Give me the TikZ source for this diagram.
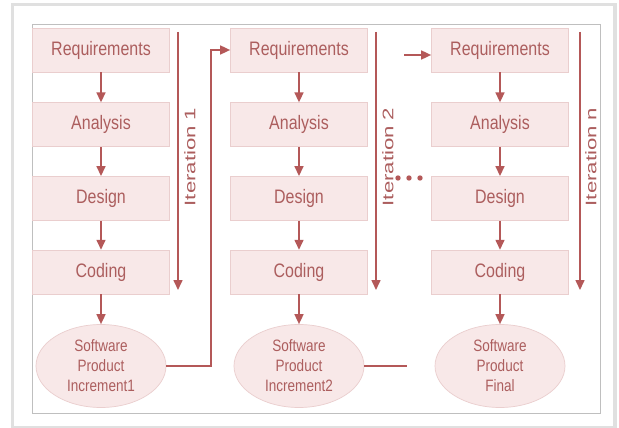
\documentclass[tikz,border=0pt]{standalone}
\usepackage{fontspec}
\setmainfont{Liberation Sans}[FakeStretch=0.82]
\newfontfamily\iterfont{Liberation Sans}[FakeStretch=1.45]
\usetikzlibrary{arrows.meta,positioning,calc}
\usetikzlibrary{shapes}

\definecolor{boxfill}{RGB}{248,232,232}
\definecolor{boxline}{RGB}{234,206,206}
\definecolor{inkred}{RGB}{180,88,88}
\definecolor{textred}{RGB}{172,94,94}

\tikzset{
  phase/.style={draw=boxline, fill=boxfill, line width=0.7pt,
    minimum width=137pt, minimum height=44pt, text=textred,
    font=\fontsize{19.5}{21}\selectfont},
  product/.style={ellipse, draw=boxline, fill=boxfill, line width=0.7pt,
    minimum width=130pt, minimum height=83pt, inner sep=0pt, text=textred,
    align=center, font=\fontsize{16.5}{20}\selectfont},
  flow/.style={draw=inkred, line width=1.6pt,
    -{Triangle[width=9pt,length=10pt]}},
  iter/.style={text=textred, rotate=90, font=\iterfont\fontsize{15.3}{17}\selectfont}
}

\begin{document}
\begin{tikzpicture}[x=1pt, y=-1pt, node distance=30pt]

      \useasboundingbox (0,0) rectangle (619,428);

      % frame
      \fill[black!12] (11,3) rectangle (617,429);
      \fill[white] (14,6) rectangle (613,426);
      \draw[black!25, line width=1pt] (32,25) rectangle (600,413);

      % iteration 1
      \node[phase] at (101,50) (R1) {Requirements};
      \node[phase, below = of R1] (A1) {Analysis};
      \node[phase, below = 29pt of A1] (D1) {Design};
      \node[phase, below = 29pt of D1] (C1) {Coding};
      \node[product] at (101,366) (P1) {Software\\Product\\Increment1};

      % iteration 2
      \node[phase] at (299,50) (R2) {Requirements};
      \node[phase, below = of R2] (A2) {Analysis};
      \node[phase, below = 29pt of A2] (D2) {Design};
      \node[phase, below = 29pt of D2] (C2) {Coding};
      \node[product] at (299,366) (P2) {Software\\Product\\Increment2};

      % iteration n
      \node[phase] at (500,50) (R3) {Requirements};
      \node[phase, below = of R3] (A3) {Analysis};
      \node[phase, below = 29pt of A3] (D3) {Design};
      \node[phase, below = 29pt of D3] (C3) {Coding};
      \node[product] at (500,366) (P3) {Software\\Product\\Final};

      \draw[flow] (R1)--(A1);
      \draw[flow] (A1)--(D1);
      \draw[flow] (D1)--(C1);
      \draw[flow] (C1)--(P1);
      \draw[flow] (R2)--(A2);
      \draw[flow] (A2)--(D2);
      \draw[flow] (D2)--(C2);
      \draw[flow] (C2)--(P2);
      \draw[flow] (R3)--(A3);
      \draw[flow] (A3)--(D3);
      \draw[flow] (D3)--(C3);
      \draw[flow] (C3)--(P3);

      % iteration markers
      \coordinate (T1) at (178,32);
      \coordinate (B1) at (178,290);
      \coordinate (T2) at (376,32);
      \coordinate (B2) at (376,290);
      \coordinate (T3) at (580,32);
      \coordinate (B3) at (580,290);
      \draw[flow] (T1)--(B1);
      \draw[flow] (T2)--(B2);
      \draw[flow] (T3)--(B3);
      \node[iter] at (190,157) (I1) {Iteration 1};
      \node[iter] at (388,157) (I2) {Iteration 2};
      \node[iter] at (591,157) (I3) {Iteration n};

      % links between iterations
      \coordinate (up1) at (211,366);
      \draw[flow] (P1.east)--(up1)|-(R2.west);
      \coordinate (out2) at (407,366);
      \draw[draw=inkred, line width=1.6pt] (P2.east)--(out2);
      \coordinate (in3) at (404,55);
      \draw[flow] (in3)--(in3 -| R3.west);

      \fill[inkred] (398,178) circle (2.7);
      \fill[inkred] (409,178) circle (2.7);
      \fill[inkred] (420,178) circle (2.7);
    \end{tikzpicture}
\end{document}
